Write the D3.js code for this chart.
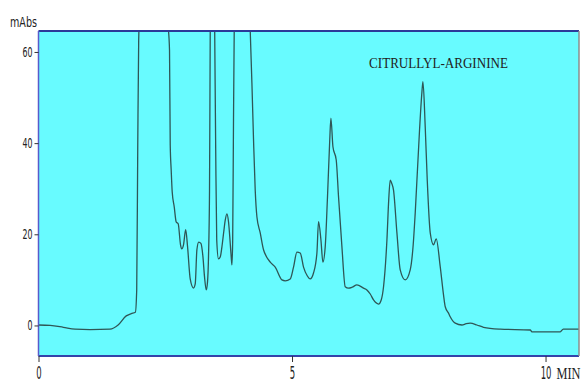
<!DOCTYPE html>
<html>
<head>
<meta charset="utf-8">
<script src="https://cdn.jsdelivr.net/npm/d3@7/dist/d3.min.js"></script>
<style>
    body { margin: 0; background: #fff; }
    svg { display: block; }
    .tick-label { font-family: "Liberation Sans Narrow", "DejaVu Sans Condensed", sans-serif; fill: #222; }
    .serif { font-family: "Liberation Serif", "DejaVu Serif", serif; fill: #222; }
</style>
</head>
<body>
<div id="chart"></div>
<script>
// retention time (min) and absorbance (mAbs)
// values above ~65 are off-scale peaks, clipped by the plot frame
let minutes = [
    0.00, 0.23, 0.49, 0.72, 1.02, 1.41, 1.57, 1.73, 1.83, 1.91,
    1.937, 1.957, 1.976, 2.25, 2.555, 2.584, 2.598, 2.617, 2.637, 2.677,
    2.716, 2.755, 2.801, 2.824, 2.860, 2.903, 2.939, 2.992, 3.057, 3.091,
    3.124, 3.160, 3.203, 3.243, 3.274, 3.308, 3.333, 3.353, 3.373, 3.387,
    3.43, 3.475, 3.495, 3.515, 3.550, 3.584, 3.617, 3.653, 3.683, 3.716,
    3.748, 3.781, 3.801, 3.815, 3.830, 3.846, 3.860, 4.02, 4.176, 4.209,
    4.241, 4.274, 4.308, 4.373, 4.438, 4.491, 4.570, 4.669, 4.801, 4.866,
    4.965, 5.030, 5.097, 5.162, 5.227, 5.300, 5.359, 5.424, 5.491, 5.523,
    5.570, 5.609, 5.655, 5.700, 5.744, 5.767, 5.807, 5.872, 5.917, 5.984,
    6.049, 6.114, 6.187, 6.280, 6.410, 6.477, 6.543, 6.608, 6.706, 6.759,
    6.805, 6.872, 6.907, 6.937, 6.966, 7.002, 7.069, 7.134, 7.233, 7.331,
    7.390, 7.430, 7.515, 7.558, 7.582, 7.627, 7.667, 7.726, 7.791, 7.844,
    7.923, 7.988, 8.022, 8.087, 8.120, 8.219, 8.351, 8.436, 8.515, 8.647,
    8.777, 9.107, 9.698, 9.732, 10.29, 10.35, 10.68
];
let absorbance = [
    0.1, 0.0, -0.4, -0.8, -0.9, -0.8, 0.1, 2.1, 2.6, 2.9,
    7.8, 38.5, 62.6, 130, 66, 60.4, 39.6, 34.1, 29.3, 26.0,
    22.7, 22.3, 17.7, 16.8, 17.7, 21.0, 17.4, 10.2, 8.2, 9.1,
    16.6, 18.3, 18.0, 15.1, 10.7, 7.8, 9.5, 15.1, 29.7, 64.6,
    110, 64.6, 38.5, 18.8, 14.6, 15.0, 17.2, 20.5, 23.1, 24.5,
    22.7, 18.1, 15.0, 13.3, 18.8, 45.1, 64.6, 150, 64.6, 53.2,
    40.7, 29.7, 23.8, 20.3, 16.6, 15.2, 13.9, 12.8, 10.0, 9.8,
    10.2, 12.8, 16.1, 15.9, 12.8, 10.9, 10.2, 11.5, 15.9, 22.8,
    18.8, 13.9, 17.3, 28.3, 40.7, 45.5, 39.2, 36.3, 28.3, 17.3,
    8.5, 8.2, 8.4, 8.9, 8.2, 7.8, 6.9, 5.6, 4.7, 5.6,
    8.5, 18.8, 27.5, 31.9, 31.2, 29.7, 20.3, 12.2, 10.0, 12.2,
    17.7, 24.7, 42.9, 50.6, 53.5, 43.6, 31.9, 20.3, 17.7, 19.0,
    12.9, 6.7, 4.1, 2.7, 1.9, 0.5, 0.1, 0.4, 0.5, 0.1,
    -0.4, -0.8, -1.0, -1.4, -1.4, -0.8, -0.8
];
let xTicks = [0, 5, 10];
let yTicks = [0, 20, 40, 60];
let xDomain = [0, 10.66];
let yDomain = [-6.7, 64.6];
let yUnit = "mAbs";
let xUnit = "MIN";
let peakName = "CITRULLYL-ARGININE";

let width = 583, height = 383;
let margin = { top: 31, right: 4, bottom: 27, left: 38.5 };
let innerW = width - margin.left - margin.right;
let innerH = height - margin.top - margin.bottom;

let svg = d3.select('#chart').append('svg')
    .attr('width', width)
    .attr('height', height);

let x = d3.scaleLinear().domain(xDomain).range([0, innerW]);
let y = d3.scaleLinear().domain(yDomain).range([innerH, 0]);

let g = svg.append('g').attr('transform', `translate(${margin.left},${margin.top})`);

g.append('defs').append('clipPath').attr('id', 'plot-clip')
    .append('rect').attr('width', innerW).attr('height', innerH);

// plot background
g.append('rect')
    .attr('width', innerW)
    .attr('height', innerH)
    .attr('fill', '#68fbff');

let points = minutes.map((m, i) => [m, absorbance[i]]);

let line = d3.line()
    .x(d => x(d[0]))
    .y(d => y(d[1]))
    .curve(d3.curveMonotoneX);

g.append('path')
    .datum(points)
    .attr('clip-path', 'url(#plot-clip)')
    .attr('d', line)
    .attr('fill', 'none')
    .attr('stroke', '#2f5656')
    .attr('stroke-width', 1.3)
    .attr('stroke-linejoin', 'round');

// frame
g.append('line').attr('x1', 0).attr('x2', innerW).attr('y1', 0).attr('y2', 0)
    .attr('stroke', '#2b3a99').attr('stroke-width', 2);
g.append('line').attr('x1', 0).attr('x2', innerW).attr('y1', innerH).attr('y2', innerH)
    .attr('stroke', '#3344aa').attr('stroke-width', 2);
g.append('line').attr('x1', 0).attr('x2', 0).attr('y1', 0).attr('y2', innerH)
    .attr('stroke', '#5a5acc').attr('stroke-width', 1.5);
g.append('line').attr('x1', innerW).attr('x2', innerW).attr('y1', 0).attr('y2', innerH)
    .attr('stroke', '#8c8c8c').attr('stroke-width', 1.5);

// squeeze a text horizontally to a target width (the original glyphs are narrow)
function squeeze(sel, w, tx, ty) {
    sel.each(function () {
        let sx = w(this) / this.getComputedTextLength();
        d3.select(this).attr('transform', `translate(${tx},${ty}) scale(${sx},1)`);
    });
}

// y axis
let yAxis = g.append('g')
    .call(d3.axisLeft(y).tickValues(yTicks).tickSize(4).tickPadding(2).tickSizeOuter(0));
yAxis.select('.domain').remove();
yAxis.selectAll('line').attr('stroke', '#333');
yAxis.selectAll('text')
    .attr('class', 'tick-label')
    .attr('font-size', 14)
    .attr('x', 0)
    .call(squeeze, n => n.textContent.length * 5, -6, 0);

// x axis
let xAxis = g.append('g')
    .attr('transform', `translate(0,${innerH})`)
    .call(d3.axisBottom(x).tickValues(xTicks).tickSize(6).tickSizeOuter(0));
xAxis.select('.domain').remove();
xAxis.selectAll('line').attr('stroke', '#333');
xAxis.selectAll('text')
    .attr('class', 'tick-label')
    .attr('font-size', 17)
    .attr('y', 0)
    .attr('dy', 0)
    .call(squeeze, n => n.textContent.length * 5.4, 0, 23);

// units
svg.append('text')
    .attr('class', 'tick-label')
    .attr('font-size', 14)
    .text(yUnit)
    .call(squeeze, () => 27, 10, 27);

g.append('text')
    .attr('class', 'serif')
    .attr('font-size', 17)
    .text(xUnit)
    .call(squeeze, () => 24, x(10) + 11, innerH + 23);

// peak annotation
g.append('text')
    .attr('class', 'serif')
    .attr('font-size', 15)
    .text(peakName)
    .call(squeeze, () => 139, x(6.52), y(56.5));
</script>
</body>
</html>
